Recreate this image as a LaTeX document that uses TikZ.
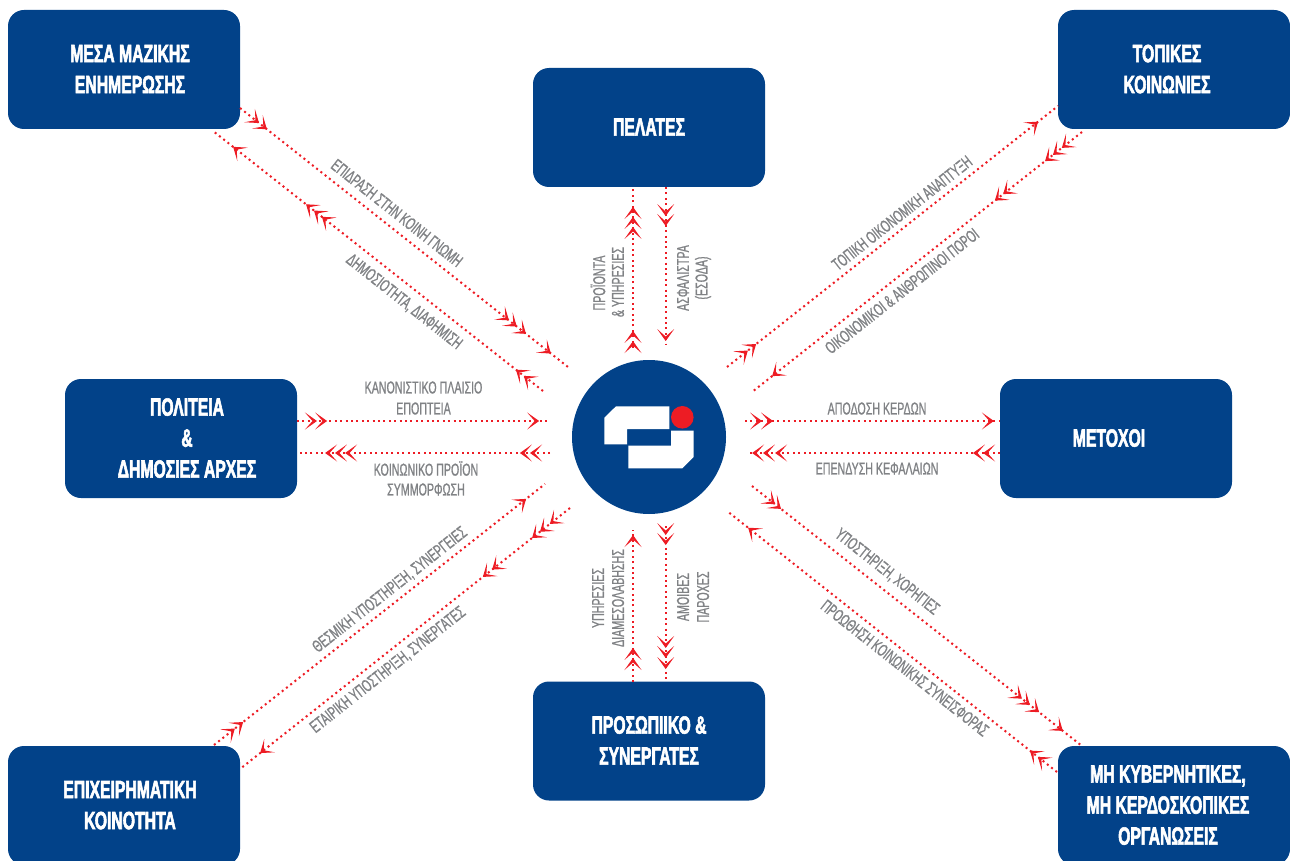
\documentclass[tikz,border=0pt]{standalone}
\usepackage{fontspec}
\usetikzlibrary{arrows.meta,decorations.markings}
\setmainfont{Liberation Sans}
\newfontfamily\condfont[FakeStretch=0.62,FakeBold=0.9]{Liberation Sans}
\newfontfamily\headfont[FakeStretch=0.63,FakeBold=2.2]{Liberation Sans}
\definecolor{boxblue}{HTML}{024289}
\definecolor{flowred}{HTML}{ED1C24}
\definecolor{labelgray}{HTML}{808285}
\newcommand\boxtxt[2]{\vbox{\vskip4pt\hbox{\hspace*{#1pt}\begin{tabular}{@{}c@{}}#2\end{tabular}\hspace*{-#1pt}}}}
\tikzset{
  x=1pt,y=-1pt,
  party/.style={fill=boxblue,rounded corners=16pt,minimum width=232pt,minimum height=119pt,inner sep=0pt,text=white,
    font=\headfont\bfseries\fontsize{25}{31}\selectfont},
  hub/.style={circle,fill=boxblue,minimum size=154pt,inner sep=0pt},
  flowlabel/.style={inner sep=0pt,text=labelgray,align=center,font=\condfont\fontsize{17.2}{21}\selectfont},
  flow/.style={draw=flowred,line width=2pt,dash pattern=on 2pt off 3.4pt,postaction={decorate}},
  tipat/.style={decoration={markings,mark=at position #1 with {\arrow{Stealth[length=12pt,width=17pt,inset=7.5pt,flowred]}}}},
}
\begin{document}
\begin{tikzpicture}
\clip (0,0) rectangle (1290,861);
% parties
\node[party] (media) at (124,69.5) {\boxtxt{6}{ΜΕΣΑ ΜΑΖΙΚΗΣ\\ΕΝΗΜΕΡΩΣΗΣ}};
\node[party] (pelates) at (649,127.5) {\boxtxt{0}{ΠΕΛΑΤΕΣ}};
\node[party] (topikes) at (1174,69.5) {\boxtxt{-7}{ΤΟΠΙΚΕΣ\\ΚΟΙΝΩΝΙΕΣ}};
\node[party] (politeia) at (181,438.5) {\boxtxt{6}{ΠΟΛΙΤΕΙΑ\\\&\\ΔΗΜΟΣΙΕΣ ΑΡΧΕΣ}};
\node[party] (metochoi) at (1116,438.5) {\boxtxt{-7}{ΜΕΤΟΧΟΙ}};
\node[party] (business) at (124,805.5) {\boxtxt{6}{ΕΠΙΧΕΙΡΗΜΑΤΙΚΗ\\ΚΟΙΝΟΤΗΤΑ}};
\node[party] (staff) at (649,741) {\boxtxt{0}{ΠΡΟΣΩΠΙΙΚΟ \&\\ΣΥΝΕΡΓΑΤΕΣ}};
\node[party] (ngo) at (1174,805.5) {\boxtxt{-6}{ΜΗ ΚΥΒΕΡΝΗΤΙΚΕΣ,\\ΜΗ ΚΕΡΔΟΣΚΟΠΙΚΕΣ\\ΟΡΓΑΝΩΣΕΙΣ}};
% hub and logo
\node[hub] (hub) at (649,437) {};
\fill[white] (604.3,417.7) -- (616,406.3) -- (669.3,406.3) -- (669.3,429) -- (627,429) -- (627,444.3) -- (604.3,444.3) -- cycle;
\fill[white] (671,430.7) -- (693.7,430.7) -- (693.7,457) -- (682.3,468.3) -- (628.3,468.3) -- (628.3,445.7) -- (671,445.7) -- cycle;
\fill[flowred] (682.3,417.3) circle[radius=11.3];
% connector ends
\coordinate (a1) at (240,108);   \coordinate (a2) at (568,367);
\coordinate (b1) at (543,391);   \coordinate (b2) at (213,131);
\coordinate (c1) at (633,348);   \coordinate (c2) at (633,187);
\coordinate (d1) at (665.7,187); \coordinate (d2) at (665.7,345);
\coordinate (e1) at (727,367);   \coordinate (e2) at (1058,106);
\coordinate (f1) at (1082,132);  \coordinate (f2) at (752,392);
\coordinate (g1) at (297,421);   \coordinate (g2) at (550,421);
\coordinate (h1) at (550,453);   \coordinate (h2) at (297,453);
\coordinate (i1) at (745,421);   \coordinate (i2) at (1000,421);
\coordinate (j1) at (1000,453);  \coordinate (j2) at (747,453);
\coordinate (k1) at (214,745);   \coordinate (k2) at (545,484);
\coordinate (l1) at (570,508);   \coordinate (l2) at (240,769);
\coordinate (m1) at (633,682);   \coordinate (m2) at (633,530);
\coordinate (n1) at (665.7,526); \coordinate (n2) at (665.7,682);
\coordinate (o1) at (752,486);   \coordinate (o2) at (1082,746);
\coordinate (p1) at (1057,772);  \coordinate (p2) at (727,511);
% connectors
\path[flow,tipat=.058,tipat=.082,tipat=.82,tipat=.844,tipat=.872,tipat=.948] (a1) -- (a2);
\path[flow,tipat=.058,tipat=.082,tipat=.67,tipat=.694,tipat=.718,tipat=.939] (b1) -- (b2);
\path[flow,tipat=.043,tipat=.106,tipat=.752,tipat=.814,tipat=.876] (c1) -- (c2);
\path[flow,tipat=.184,tipat=.247,tipat=.975] (d1) -- (d2);
\path[flow,tipat=.063,tipat=.088,tipat=.94] (e1) -- (e2);
\path[flow,tipat=.061,tipat=.088,tipat=.112,tipat=.239,tipat=.264,tipat=.939] (f1) -- (f2);
\path[flow,tipat=.079,tipat=.119,tipat=.957] (g1) -- (g2);
\path[flow,tipat=.079,tipat=.119,tipat=.81,tipat=.85,tipat=.889] (h1) -- (h2);
\path[flow,tipat=.067,tipat=.11,tipat=.976] (i1) -- (i2);
\path[flow,tipat=.067,tipat=.107,tipat=.889,tipat=.937,tipat=.98] (j1) -- (j2);
\path[flow,tipat=.063,tipat=.088,tipat=.943] (k1) -- (k2);
\path[flow,tipat=.061,tipat=.091,tipat=.115,tipat=.236,tipat=.264,tipat=.939] (l1) -- (l2);
\path[flow,tipat=.158,tipat=.224,tipat=.967] (m1) -- (m2);
\path[flow,tipat=.058,tipat=.122,tipat=.782,tipat=.846,tipat=.917] (n1) -- (n2);
\path[flow,tipat=.07,tipat=.088,tipat=.818,tipat=.842,tipat=.87,tipat=.942] (o1) -- (o2);
\path[flow,tipat=.058,tipat=.082,tipat=.936] (p1) -- (p2);
% labels
\node[flowlabel,rotate=-38.3] (l01) at (397,213) {ΕΠΙΔΡΑΣΗ ΣΤΗΝ ΚΟΙΝΗ ΓΝΩΜΗ};
\node[flowlabel,rotate=-38.3] (l02) at (404,302) {ΔΗΜΟΣΙΟΤΗΤΑ, ΔΙΑΦΗΜΙΣΗ};
\node[flowlabel,rotate=38.3] (l03) at (902,213) {ΤΟΠΙΚΗ ΟΙΚΟΝΟΜΙΚΗ ΑΝΑΠΤΥΞΗ};
\node[flowlabel,rotate=38.3] (l04) at (902,291) {ΟΙΚΟΝΟΜΙΚΟΙ \& ΑΝΘΡΩΠΙΝΟΙ ΠΟΡΟΙ};
\node[flowlabel,rotate=-38.3] (l05) at (887,572) {ΥΠΟΣΤΗΡΙΞΗ, ΧΟΡΗΓΙΕΣ};
\node[flowlabel,rotate=-38.3] (l06) at (905,668) {ΠΡΟΩΘΗΣΗ ΚΟΙΝΩΝΙΚΗΣ ΣΥΝΕΙΣΦΟΡΑΣ};
\node[flowlabel,rotate=38.3] (l07) at (390,590) {ΘΕΣΜΙΚΗ ΥΠΟΣΤΗΡΙΞΗ, ΣΥΝΕΡΓΕΙΕΣ};
\node[flowlabel,rotate=38.3] (l08) at (388,670) {ΕΤΑΙΡΙΚΗ ΥΠΟΣΤΗΡΙΞΗ, ΣΥΝΕΡΓΑΤΕΣ};
\node[flowlabel] (l09) at (423.5,387.5) {ΚΑΝΟΝΙΣΤΙΚΟ ΠΛΑΙΣΙΟ};
\node[flowlabel] (l10) at (423.5,408.5) {ΕΠΟΠΤΕΙΑ};
\node[flowlabel] (l11) at (426,468.5) {ΚΟΙΝΩΝΙΚΟ ΠΡΟΪΟΝ};
\node[flowlabel] (l12) at (426,489.5) {ΣΥΜΜΟΡΦΩΣΗ};
\node[flowlabel] (l13) at (877,408.5) {ΑΠΟΔΟΣΗ ΚΕΡΔΩΝ};
\node[flowlabel] (l14) at (877,468.5) {ΕΠΕΝΔΥΣΗ ΚΕΦΑΛΑΙΩΝ};
\node[flowlabel,rotate=90] (l15) at (598,283) {ΠΡΟΪΟΝΤΑ};
\node[flowlabel,rotate=90] (l16) at (618,282) {\& ΥΠΗΡΕΣΙΕΣ};
\node[flowlabel,rotate=90] (l17) at (683,278) {ΑΣΦΑΛΙΣΤΡΑ};
\node[flowlabel,rotate=90] (l18) at (703,278) {(ΕΣΟΔΑ)};
\node[flowlabel,rotate=90] (l19) at (598,598) {ΥΠΗΡΕΣΙΕΣ};
\node[flowlabel,rotate=90] (l20) at (618,598) {ΔΙΑΜΕΣΟΛΑΒΗΣΗΣ};
\node[flowlabel,rotate=90] (l21) at (683,597) {ΑΜΟΙΒΕΣ};
\node[flowlabel,rotate=90] (l22) at (703,597) {ΠΑΡΟΧΕΣ};
\end{tikzpicture}
\end{document}
